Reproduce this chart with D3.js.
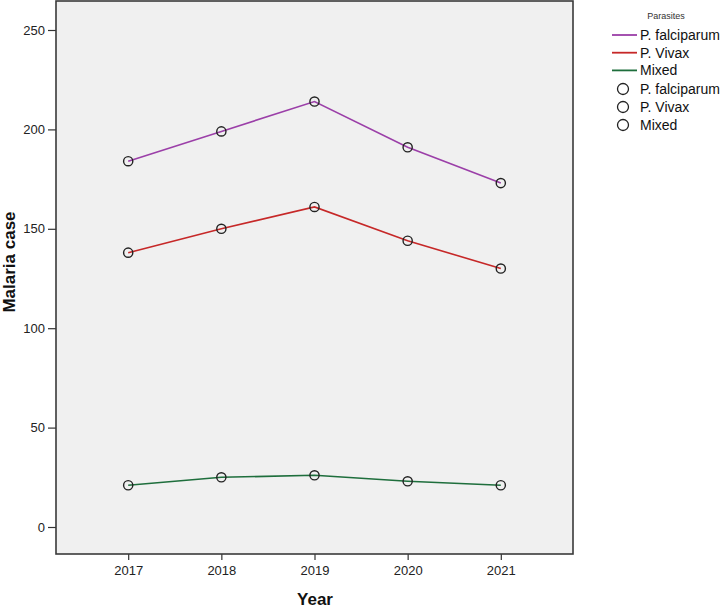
<!DOCTYPE html>
<html>
<head>
<meta charset="utf-8">
<script src="https://cdn.jsdelivr.net/npm/d3@7"></script>
<style>
  html, body { margin: 0; padding: 0; background: #fff; }
  svg { display: block; font-family: "Liberation Sans", Arial, sans-serif; }
</style>
</head>
<body>
<svg id="chart" width="720" height="610"></svg>
<script>
const years = [2017, 2018, 2019, 2020, 2021];
const falciparum = [184, 199, 214, 191, 173];
const vivax = [138, 150, 161, 144, 130];
const mixed = [21, 25, 26, 23, 21];
const seriesNames = ["P. falciparum", "P. Vivax", "Mixed"];
const seriesColors = ["#9b3fa8", "#c62828", "#1e6e3c"];
const yTicks = [0, 50, 100, 150, 200, 250];
const legendTitle = "Parasites";

const series = [
  { name: seriesNames[0], values: falciparum, color: seriesColors[0] },
  { name: seriesNames[1], values: vivax, color: seriesColors[1] },
  { name: seriesNames[2], values: mixed, color: seriesColors[2] }
];

const svg = d3.select("#chart");
const L = 56, T = 1, R = 573, B = 554;

const x = d3.scaleLinear().domain([2016.225, 2021.775]).range([L, R]);
const y = d3.scaleLinear().domain([0, 250]).range([527, 30]);

svg.append("rect")
  .attr("x", L).attr("y", T).attr("width", R - L).attr("height", B - T)
  .attr("fill", "#f0f0f0").attr("stroke", "none");

// Axes
const yAxis = svg.append("g").attr("transform", `translate(${L},0)`)
  .call(d3.axisLeft(y).tickValues(yTicks).tickSize(8).tickPadding(3).tickFormat(d3.format("d")));
const xAxis = svg.append("g").attr("transform", `translate(0,${B})`)
  .call(d3.axisBottom(x).tickValues(years).tickSize(6).tickPadding(6).tickFormat(d3.format("d")));
[yAxis, xAxis].forEach(a => {
  a.select(".domain").remove();
  a.selectAll(".tick line").attr("stroke", "#333").attr("stroke-width", 1.2);
  a.selectAll(".tick text").attr("fill", "#222").style("font-size", "13px")
    .style("font-family", "'Liberation Sans', Arial, sans-serif");
});

// Frame
svg.append("rect")
  .attr("x", L).attr("y", T).attr("width", R - L).attr("height", B - T)
  .attr("fill", "none").attr("stroke", "#3a3a3a").attr("stroke-width", 1.6);

// Lines
const line = d3.line().x((d, i) => x(years[i])).y(d => y(d));
series.forEach(s => {
  svg.append("path").datum(s.values)
    .attr("d", line).attr("fill", "none")
    .attr("stroke", s.color).attr("stroke-width", 1.6);
});
series.forEach(s => {
  svg.append("g").selectAll("circle").data(s.values).join("circle")
    .attr("cx", (d, i) => x(years[i])).attr("cy", d => y(d)).attr("r", 4.6)
    .attr("fill", "none").attr("stroke", "#222").attr("stroke-width", 1.4);
});

// Axis titles
svg.append("text").attr("x", 315).attr("y", 605).attr("text-anchor", "middle")
  .style("font-size", "17px").style("font-weight", "bold").attr("fill", "#111")
  .text("Year");
svg.append("text").attr("transform", "translate(15,262) rotate(-90)")
  .attr("text-anchor", "middle")
  .style("font-size", "17px").style("font-weight", "bold").attr("fill", "#111")
  .text("Malaria case");

// Legend
const lg = svg.append("g");
lg.append("text").attr("x", 666).attr("y", 19).attr("text-anchor", "middle")
  .style("font-size", "9px").attr("fill", "#333").text(legendTitle);
series.forEach((s, i) => {
  const yy = 35 + i * 17.7;
  lg.append("line").attr("x1", 612).attr("x2", 637).attr("y1", yy).attr("y2", yy)
    .attr("stroke", s.color).attr("stroke-width", 1.8);
  lg.append("text").attr("x", 640).attr("y", yy + 5)
    .style("font-size", "14px").attr("fill", "#111").text(s.name);
});
series.forEach((s, i) => {
  const yy = 89 + i * 18;
  lg.append("circle").attr("cx", 623).attr("cy", yy).attr("r", 5.5)
    .attr("fill", "none").attr("stroke", "#222").attr("stroke-width", 1.3);
  lg.append("text").attr("x", 640).attr("y", yy + 5)
    .style("font-size", "14px").attr("fill", "#111").text(s.name);
});
</script>
</body>
</html>
